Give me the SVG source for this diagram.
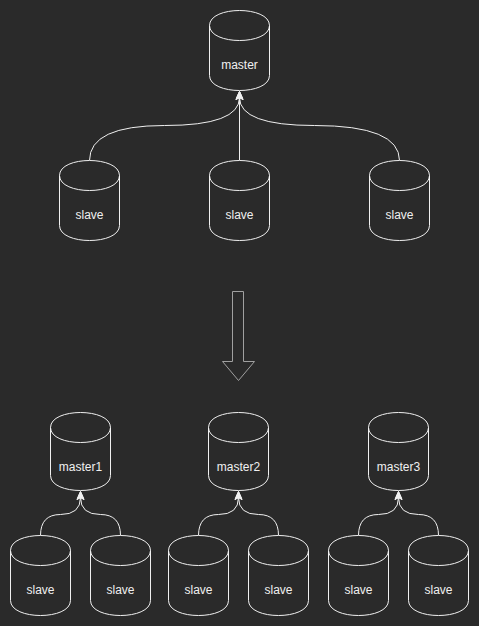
<svg xmlns="http://www.w3.org/2000/svg" xmlns:xlink="http://www.w3.org/1999/xlink" width="479" height="626" viewBox="0 0 479 626">
  <style>
    .cyl { fill: #2a2a2a; stroke: #f0f0f0; stroke-width: 1; }
    .front { fill: none; stroke: #f0f0f0; stroke-width: 1; }
    .lbl { font-family: "Liberation Sans", Arial, Helvetica, sans-serif; font-size: 12px; fill: #f0f0f0; text-anchor: middle; }
    .edge { fill: none; stroke: #f0f0f0; stroke-width: 1; marker-end: url(#arrow); }
    .big { fill: #2a2a2a; stroke: #a0a0a0; stroke-width: 1; }
  </style>
  <defs>
    <marker id="arrow" markerUnits="userSpaceOnUse" markerWidth="8" markerHeight="8" viewBox="0 -4 8 8" refX="2" refY="0" orient="auto" overflow="visible">
      <path d="M8,0 L0,-3.5 L2,0 L0,3.5 Z" fill="#f0f0f0" stroke="#f0f0f0" stroke-width="1"/>
    </marker>
    <g id="cyl80">
      <path class="cyl" d="M0,15 C0,-5 60,-5 60,15 L60,65 C60,85 0,85 0,65 Z"/>
      <path class="front" d="M0,15 C0,35 60,35 60,15"/>
    </g>
    <g id="cyl78">
      <path class="cyl" d="M0,15 C0,-5 60,-5 60,15 L60,63 C60,83 0,83 0,63 Z"/>
      <path class="front" d="M0,15 C0,35 60,35 60,15"/>
    </g>
  </defs>
  <rect width="479" height="626" fill="#2a2a2a"/>
  <g transform="translate(0.5,0.5)">
    <g id="connectors">
      <path class="edge" d="M89,160 Q89,125 164,125 Q239,125 239,97"/>
      <path class="edge" d="M239,160 L239,97"/>
      <path class="edge" d="M399,160 Q399,125 314,125 Q239,125 239,97"/>
      <path class="edge" d="M40,535 Q40,514 60,514 Q80,514 80,497"/>
      <path class="edge" d="M120,535 Q120,514 100,514 Q80,514 80,497"/>
      <path class="edge" d="M198,535 Q198,514 218,514 Q238,514 238,497"/>
      <path class="edge" d="M278,535 Q278,514 258,514 Q238,514 238,497"/>
      <path class="edge" d="M358,535 Q358,514 378,514 Q398,514 398,497"/>
      <path class="edge" d="M438,535 Q438,514 418,514 Q398,514 398,497"/>
    </g>
    <g id="master">
      <use xlink:href="#cyl80" transform="translate(209,10)"/>
      <text class="lbl" x="239" y="68">master</text>
    </g>
    <g id="slave-top-1">
      <use xlink:href="#cyl80" transform="translate(59,160)"/>
      <text class="lbl" x="89" y="218">slave</text>
    </g>
    <g id="slave-top-2">
      <use xlink:href="#cyl80" transform="translate(209,160)"/>
      <text class="lbl" x="239" y="218">slave</text>
    </g>
    <g id="slave-top-3">
      <use xlink:href="#cyl80" transform="translate(369,160)"/>
      <text class="lbl" x="399" y="218">slave</text>
    </g>
    <g id="big-arrow">
      <polygon class="big" points="232,291 243,291 243,361 254,361 238,380 222,361 232,361"/>
    </g>
    <g id="master1">
      <use xlink:href="#cyl78" transform="translate(50,412)"/>
      <text class="lbl" x="80" y="470">master1</text>
    </g>
    <g id="master2">
      <use xlink:href="#cyl78" transform="translate(208,412)"/>
      <text class="lbl" x="238" y="470">master2</text>
    </g>
    <g id="master3">
      <use xlink:href="#cyl78" transform="translate(368,412)"/>
      <text class="lbl" x="398" y="470">master3</text>
    </g>
    <g id="slave-1a">
      <use xlink:href="#cyl80" transform="translate(10,535)"/>
      <text class="lbl" x="40" y="593">slave</text>
    </g>
    <g id="slave-1b">
      <use xlink:href="#cyl80" transform="translate(90,535)"/>
      <text class="lbl" x="120" y="593">slave</text>
    </g>
    <g id="slave-2a">
      <use xlink:href="#cyl80" transform="translate(168,535)"/>
      <text class="lbl" x="198" y="593">slave</text>
    </g>
    <g id="slave-2b">
      <use xlink:href="#cyl80" transform="translate(248,535)"/>
      <text class="lbl" x="278" y="593">slave</text>
    </g>
    <g id="slave-3a">
      <use xlink:href="#cyl80" transform="translate(328,535)"/>
      <text class="lbl" x="358" y="593">slave</text>
    </g>
    <g id="slave-3b">
      <use xlink:href="#cyl80" transform="translate(408,535)"/>
      <text class="lbl" x="438" y="593">slave</text>
    </g>
  </g>
</svg>
